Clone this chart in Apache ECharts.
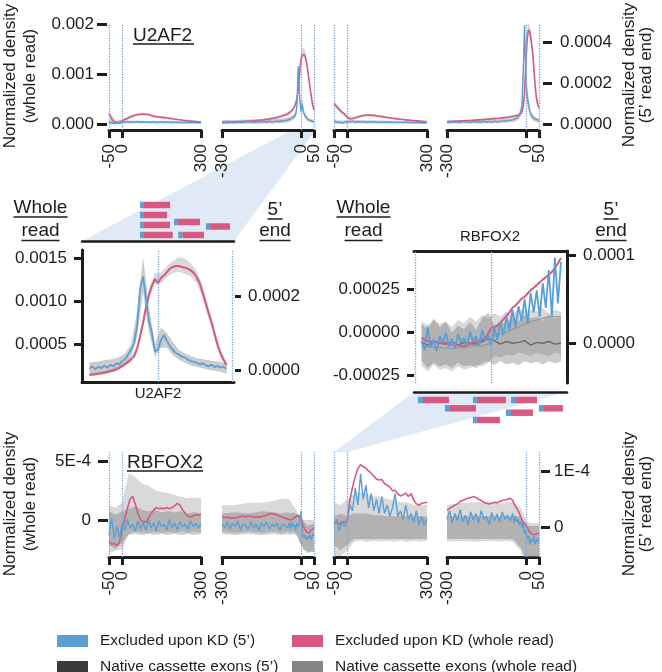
<!DOCTYPE html>
<html><head><meta charset="utf-8">
<script src="https://cdn.jsdelivr.net/npm/echarts@6/dist/echarts.min.js"></script>
<style>html,body{margin:0;padding:0;background:#fff}#c{width:662px;height:672px}</style>
</head><body><div id="c"></div>
<script>
// ================= DATA =================
// positions (nt) relative to splice sites
const xA  = [-50,-40,-30,-20,-10,0,10,20,30,40,50,60,70,80,90,100,110,120,130,140,150,160,170,180,190,200,210,220,230,240,250,260,270,280,290,300];
const xB  = [-300,-290,-280,-270,-260,-250,-240,-230,-220,-210,-200,-190,-180,-170,-160,-150,-140,-130,-120,-110,-100,-90,-80,-70,-60,-50,-45,-40,-35,-30,-25,-20,-15,-10,-5,0,5,10,15,20,25,30,35,40,45,50];
const xAc = [-50,-25,0,25,50,75,100,125,150,175,200,225,250,275,300];
const xBc = [-300,-250,-200,-150,-100,-75,-50,-40,-30,-20,-15,-10,-5,0,5,10,15,20,25,30,40,50];
const xM  = [-46,-44,-42,-40,-38,-36,-34,-32,-30,-28,-26,-24,-22,-20,-18,-16,-14,-12,-10,-8,-6,-4,-2,0,2,4,6,8,10,12,14,16,18,20,22,24,26,28,30,32,34,36,38,40,42,44,46];
const xMc = [-46,-42,-38,-34,-30,-26,-22,-18,-14,-10,-6,-2,2,6,10,14,18,22,26,30,34,38,42,46];

// ---- U2AF2 top row (panels 1-2 in units of 1e-4, panels 3-4 in units of 1e-5) ----
const u2p1Pink = [2.1,1.0,0.4,0.3,0.25,0.6,0.9,1.1,1.4,1.6,1.75,1.9,1.95,2.0,1.95,1.9,1.7,1.55,1.45,1.4,1.33,1.28,1.2,1.13,1.05,1.0,0.9,0.85,0.75,0.7,0.62,0.58,0.53,0.5,0.45,0.4];
const u2p1Blue = [0.5,0.2,0.1,0.3,0.15,0.4,0.35,0.5,0.3,0.45,0.35,0.5,0.3,0.45,0.35,0.4,0.3,0.45,0.3,0.35,0.45,0.3,0.4,0.35,0.3,0.4,0.3,0.35,0.25,0.35,0.3,0.25,0.35,0.25,0.3,0.25];
const u2p1LightLo = [1.7,0.15,0.4,1.0,1.5,1.75,1.65,1.3,1.15,1.0,0.8,0.62,0.45,0.37,0.25];
const u2p1LightHi = [2.6,0.7,0.9,1.55,2.05,2.3,2.2,1.8,1.6,1.4,1.2,1.0,0.85,0.72,0.6];
const u2p1DarkLo  = [0.0,-0.1,0.1,0.15,0.15,0.15,0.15,0.15,0.15,0.1,0.1,0.1,0.1,0.1,0.1];
const u2p1DarkHi  = [0.9,0.6,0.7,0.7,0.65,0.65,0.6,0.6,0.6,0.55,0.55,0.5,0.5,0.5,0.45];

const u2p2Pink = [0.25,0.3,0.3,0.35,0.35,0.4,0.4,0.45,0.5,0.5,0.55,0.6,0.6,0.7,0.75,0.8,0.85,0.95,1.0,1.1,1.2,1.3,1.45,1.6,1.8,2.0,2.2,2.4,2.6,2.9,3.4,4.0,5.0,7.0,10.0,12.6,13.8,14.1,13.8,12.8,11.1,9.2,7.2,5.4,3.8,2.8];
const u2p2Blue = [0.4,0.3,0.5,0.35,0.45,0.3,0.5,0.4,0.35,0.55,0.4,0.45,0.3,0.5,0.4,0.45,0.5,0.4,0.55,0.45,0.5,0.6,0.5,0.65,0.7,0.8,0.9,1.0,1.1,1.3,1.5,1.8,3.5,11.5,5.5,2.5,4.0,2.4,1.7,1.3,1.0,0.8,0.7,0.6,0.5,0.4];
const u2p2LightLo = [0.1,0.25,0.4,0.6,1.0,1.3,1.7,2.1,2.6,3.5,4.5,6.2,9.0,11.5,13.0,13.4,13.1,12.0,10.4,8.6,4.9,2.5];
const u2p2LightHi = [0.5,0.6,0.8,1.0,1.5,1.9,2.4,2.8,3.3,4.6,5.8,8.0,11.5,14.2,15.0,15.2,14.8,13.6,11.9,9.9,6.0,3.2];
const u2p2DarkLo  = [0.0,0.0,0.05,0.05,0.1,0.2,0.3,0.5,0.8,1.2,2.5,8.0,4.0,1.8,2.8,1.8,1.2,0.9,0.6,0.5,0.3,0.1];
const u2p2DarkHi  = [0.8,0.8,0.9,0.9,1.0,1.1,1.3,1.5,1.8,2.4,4.5,13.0,7.0,3.5,5.0,3.2,2.3,1.8,1.5,1.2,1.0,0.8];

const u2p3Pink = [9.8,8.5,7.0,5.8,4.8,3.3,2.4,2.6,3.0,3.4,3.8,4.1,4.3,4.4,4.3,4.2,4.0,3.8,3.6,3.4,3.2,3.0,2.8,2.6,2.5,2.3,2.2,2.0,1.9,1.8,1.6,1.5,1.4,1.3,1.2,1.1];
const u2p3Blue = [1.5,0.8,1.0,0.5,0.8,1.2,1.0,1.4,0.8,1.2,0.9,1.3,0.8,1.1,0.9,1.2,0.8,1.0,0.7,1.1,0.8,1.0,0.7,0.9,0.8,1.0,0.6,0.9,0.7,0.8,0.6,0.8,0.6,0.7,0.5,0.7];
const u2p3LightLo = [8.5,5.4,2.6,2.2,3.2,3.8,3.7,3.2,2.7,2.3,1.9,1.6,1.3,1.05,0.85];
const u2p3LightHi = [11.5,7.5,4.0,3.4,4.5,5.0,4.8,4.3,3.8,3.2,2.8,2.4,2.0,1.7,1.4];
const u2p3DarkLo  = [0.2,0.0,0.2,0.3,0.3,0.3,0.3,0.2,0.2,0.2,0.2,0.2,0.1,0.1,0.1];
const u2p3DarkHi  = [2.2,1.6,1.9,1.9,1.8,1.8,1.7,1.7,1.6,1.6,1.5,1.5,1.4,1.4,1.3];

const u2p4Pink = [1.1,1.2,1.2,1.3,1.3,1.4,1.5,1.5,1.6,1.7,1.8,1.9,2.0,2.1,2.2,2.3,2.4,2.5,2.6,2.7,2.8,3.0,3.1,3.3,3.5,3.7,3.8,4.0,4.1,4.3,4.6,5.0,6.0,8.5,15,30,42,46,45,41,36,28,19,13,9.5,8];
const u2p4Blue = [1.0,0.6,1.2,0.8,1.1,0.7,1.3,0.9,1.0,0.7,1.2,0.9,1.1,0.8,1.3,1.0,1.2,0.9,1.4,1.1,1.3,1.5,1.4,1.7,1.8,2.0,2.3,2.5,2.9,3.3,4.0,5.5,9.0,25,48,22,13,10,6,4.5,3.5,3.0,2.5,2.2,2.0,1.5];
const u2p4LightLo = [0.7,1.0,1.4,1.9,2.4,2.8,3.2,3.5,3.8,4.4,5.3,7.5,13,27,39,43,42,38,33,25,11,6.5];
const u2p4LightHi = [1.6,1.9,2.3,2.8,3.4,3.8,4.3,4.6,4.9,5.7,6.8,10,18,34,45,49,48,44,39,31,15,9.5];
const u2p4DarkLo  = [0.2,0.2,0.2,0.3,0.4,0.6,1.0,1.4,2.0,3.5,6,18,40,15,9,7,4,3,2,1.5,1,0.5];
const u2p4DarkHi  = [1.8,1.8,1.9,2.0,2.3,2.7,3.0,3.5,4.6,7.5,12,32,49,30,17,13,8,6,5,4,3,2.5];

// ---- RBFOX2 bottom row (all in units of 1e-5) ----
const rbp1Pink = [-17,-20,-19,-21,-18,-8,2,10,18,20.5,14,6,1,-1,-1,2,6,9,11,10,10.5,10,11,10,11,12.5,14.5,13,9,6,4,3,4,5,4.5,5.5];
const rbp1Blue = [-12,2,-15,-5,-14,-2,-8,1,-6,-3,-9,0,-7,-2,-8,1,-6,-2,-9,0,-5,-3,-8,1,-6,-2,-8,-1,-5,-3,-7,0,-5,-2,-6,-3];
const rbp1LightLo = [-27,-25,-24,-11,-9,-10,-10,-9,-10,-9,-10,-9,-10,-9,-10];
const rbp1LightHi = [13,11,15,40,36.5,31,29.5,25.5,24,23,21.5,20,18.7,19.5,18.7];
const rbp1DarkLo  = [-20,-24,-18,-12,-11,-12,-11,-12,-11,-12,-11,-12,-11,-12,-11];
const rbp1DarkHi  = [8,5,8,10,12,9,8,9,7,8,7,8,6,7,6];

const rbp2Pink = [3.4,2.5,3,2,2.5,2,3,3.5,4,3,4,3.5,3,3.5,3,3.4,4,4.5,6,5.5,5.6,4.5,3.8,3,2,1.5,1,0.5,1,2,2.5,3,4,4.5,3,1,-2,-5,-7,-9,-10,-10.6,-9,-7.8,-7,-6];
const rbp2Blue = [-3,-6,-1,-7,-2,-5,0,-8,-3,-4,-7,-1,-6,-3,-8,-2,-5,-1,-7,-3,-5,-2,-8,-3,-4,-6,-2,-7,-1,-5,-3,-8,-2,-5,-2,8,-10,-14,-12,-16,-13,-15,-12,-16,-11,-13];
const rbp2LightLo = [-9,-10,-9,-10,-9,-10,-9,-10,-9,-10,-12,-14,-18,-20,-22,-24,-25,-26,-27,-27,-26,-27];
const rbp2LightHi = [13,13,15,15,16.7,18.4,18.4,17,13,10,7.3,4.5,3.5,2.5,1.5,1,1,0.5,0.5,0.5,0.5,0.3];
const rbp2DarkLo  = [-11,-12,-11,-12,-11,-12,-11,-12,-11,-12,-13,-15,-18,-20,-22,-24,-25,-25,-26,-26,-26,-26];
const rbp2DarkHi  = [6,7,6,8,7,6,7,6,7,6,6,5,5,4,2,0,-2,-3,-4,-4,-3,-3];

const rbp3Pink = [0.8,1.0,0.6,1.1,0.9,1.3,4.9,7.2,9.0,10.5,11.1,10.8,10.5,10.0,9.6,9.1,8.6,8.4,8.5,7.8,7.5,7.2,6.5,6.6,6.0,5.6,5.8,6.1,5.5,6.0,4.9,4.2,4.0,4.3,4.4,4.5];
const rbp3Blue = [0.5,1.5,-0.5,1.0,0.2,1.5,4,3,7,4,9.5,5,7.5,3.5,6,3,5,2.5,5.5,2.5,4,2,3.5,6,2,3,1.5,4,1.5,2.5,1,3,0.5,2,0.5,1.5];
const rbp3LightLo = [-5,-5,-4,-2.5,-2.3,-2.5,-2.3,-2.5,-2.3,-2.5,-2.3,-2.5,-2.3,-2.5,-2.3];
const rbp3LightHi = [4.5,4,5,6,6.2,6,5.5,5.5,5,4.8,4.5,4.5,4,4,4];
const rbp3DarkLo  = [-3,-4,-3,-2,-2,-2,-2,-2,-2,-2,-2,-2,-2,-2,-2];
const rbp3DarkHi  = [2,2.5,2,2.5,2.5,2.5,2.2,2.2,2,2,2,2,2,2,2];

const rbp4Pink = [3.1,3.4,3.7,4.0,4.2,4.6,4.8,5.0,5.2,5.3,5.5,5.3,5.0,4.8,4.5,4.3,4.2,4.3,4.5,4.4,4.6,4.8,4.9,5.0,5.2,4.8,4.2,3.8,3.4,3.0,2.6,1.9,1.5,1.0,0.8,0.5,0.0,-0.4,-0.8,-1.0,-1.2,-1.3,-1.2,-1.3,-1.0,-1.1];
const rbp4Blue = [1.5,3,0.8,2.5,1.2,3.2,1,2.2,0.5,2.8,1.3,2.5,0.8,3,1.5,2,0.6,2.7,1.2,2.4,1,2.8,1.5,2.2,1.2,2.5,0.8,2,1,1.5,0.5,1.2,0,0.8,-1,-0.5,-2,-1.5,-3,-2,-2.5,-1.5,-3,-2,-2.5,-1.8];
const rbp4LightLo = [-2.5,-2.3,-2.5,-2.3,-2.5,-2.3,-2.5,-3,-3.5,-4,-5,-6,-7,-7,-7,-8,-8,-8,-8,-8,-8,-8];
const rbp4LightHi = [4,4.3,4.5,4.5,4.3,4.5,4.5,4.3,4,3.5,3,2.5,2,1.5,1,1,0.8,0.8,0.8,0.8,0.8,0.8];
const rbp4DarkLo  = [-2,-2,-2,-2,-2,-2,-2,-2.5,-3,-3.5,-4,-4.5,-5,-5.5,-6,-6,-6,-6,-6,-6,-6,-6];
const rbp4DarkHi  = [2,2,2,2,2,2,2,2,2,1.8,1.5,1.2,1,0.8,0.5,0.3,0.3,0.3,0.3,0.3,0.3,0.3];

// ---- zoomed U2AF2 (pink/light in 1e-4, blue/dark in 1e-5) ----
const zuPink = [1.43,1.48,1.53,1.58,1.63,1.7,1.78,1.87,1.96,2.08,2.25,2.45,2.7,2.95,3.25,3.6,4.5,5.9,7.5,9.4,10.8,11.9,12.6,12.1,12.7,13.0,13.4,13.8,14.0,14.1,14.1,14.0,13.9,13.8,13.6,13.3,12.8,12.1,11.0,9.8,8.6,7.5,6.2,4.9,3.9,3.2,2.6];
const zuBlue = [0.3,1.0,0.2,0.9,0.5,1.2,0.6,1.4,1.0,1.8,1.5,2.4,3.0,4.2,5.5,7.2,12.0,22.0,25.2,19.0,13.0,9.9,5.0,5.5,8.0,9.5,7.8,6.5,5.4,4.6,4.2,3.6,3.4,2.8,2.4,2.2,2.0,1.5,1.8,1.3,1.0,1.4,0.8,1.1,0.6,0.9,0.3];
const zuLightLo = [1.25,1.35,1.45,1.6,1.8,2.05,2.5,3.0,4.2,7.0,10.2,12.0,12.1,12.8,13.3,13.4,13.2,12.9,12.1,10.3,8.0,5.7,3.5,2.3];
const zuLightHi = [1.65,1.75,1.85,2.0,2.2,2.5,2.95,3.55,4.9,8.0,11.4,13.3,13.3,14.1,14.7,15.1,15.0,14.4,13.6,11.8,9.3,6.8,4.4,2.95];
const zuDarkLo  = [-1.0,-0.8,-0.8,-0.5,0.0,0.5,1.5,3.5,9.0,21.0,10.0,3.5,6.0,6.0,4.0,2.8,2.0,1.2,0.8,0.5,0.0,-0.2,-0.5,-1.0];
const zuDarkHi  = [2.0,2.2,2.5,2.8,3.0,3.5,4.5,7.0,16.0,30.5,17.0,7.0,11.5,10.0,7.5,5.5,4.5,3.8,3.2,3.0,2.6,2.4,2.2,1.8];

// ---- zoomed RBFOX2 (all in 1e-5) ----
const zrPink = [-3.3,-4.5,-5.2,-5.5,-5.8,-6.0,-6.2,-6.5,-6.3,-6.8,-7.2,-7.0,-7.5,-8.0,-8.1,-7.5,-7.0,-6.2,-5.5,-5.0,-4.5,-3.5,-1.0,2.6,3.0,3.5,5.5,7.4,9.5,11.5,14.2,15.5,17.5,19.5,20.5,22.5,24.5,25.8,27.5,29.0,30.6,32.0,33.5,35.0,37.5,40.0,43.3];
const zrBlue = [0.3,-0.8,1.9,-0.5,0.4,-0.9,0.8,0.0,1.2,-0.4,0.5,-0.6,1.0,0.1,0.6,-0.3,1.3,0.2,0.8,-0.2,1.5,0.3,0.9,-0.2,1.8,0.4,2.4,0.9,3.0,1.5,3.8,1.8,4.2,2.5,5.0,2.2,5.7,3.5,6.0,3.0,6.8,4.0,8.3,3.0,9.7,4.5,9.2];
const zrLightLo = [-20,-23,-19,-22,-21,-23,-20,-22,-21,-19,-20,-18,-14,-15,-13,-14,-12,-13,-14,-12,-13,-14,-12,-13];
const zrLightHi = [6,4,7,5,6,3,7,5,9,6,10,8,11,9,12,10,14,12,13,12,14,11,13,12];
const zrLightMean = [-8,-8.5,-9,-9,-9.5,-9.5,-9,-9,-8.5,-8,-8,-7,-2,-1,0,1.5,3,4.5,6,7,8,9,9,9];
const zrDarkLo  = [-2.0,-2.8,-2.2,-2.6,-2.4,-2.8,-2.2,-2.6,-2.5,-2.8,-2.3,-2.0,-2.5,-2.0,-2.4,-2.2,-2.5,-2.0,-2.3,-2.1,-2.4,-2.0,-2.3,-2.1];
const zrDarkHi  = [2.2,1.5,2.8,1.8,2.5,1.2,2.0,1.6,2.4,1.5,2.8,3.5,2.0,2.5,2.2,3.0,2.5,3.2,2.8,3.0,2.6,3.2,2.8,3.0];
const zrDarkMean = [0.1,-0.2,0.2,0,-0.1,0.2,-0.2,0.1,0,-0.1,0.2,0.5,0.3,-0.1,0.2,0,0.1,0.3,-0.2,0.1,0,0.2,-0.1,0];

// ---- schematic reads: [start, 5' end, end, row] (nt) ----
const readsU2AF2  = [[-12.1,-9.4,8.1,0],[-12.1,-9.4,6.1,1],[-12.1,-9.4,8.1,2],[10.7,13.4,28.2,1.7],[32.2,35.0,48.3,2.15],[-12.1,-9.4,9.9,3],[13.6,16.3,30.9,3]];
const readsRBFOX2 = [[-48.4,-45.1,-27.9,0],[-12.1,-9.5,9.7,0],[13.0,16.3,30.2,0],[-30.6,-27.3,-10.1,0.83],[9.7,13.0,27.5,1.27],[31.5,34.8,47.3,0.83],[-12.1,-9.5,5.7,2]];

// ---- tick values / labels ----
const ticksA = [-50,0,300], ticksB = [-300,0,50];
const topLeftTicks = [0,0.001,0.002],        topLeftLabels = ['0.000','0.001','0.002'];
const topRightTicks = [0,0.0002,0.0004],     topRightLabels = ['0.0000','0.0002','0.0004'];
const botLeftTicks = [0,0.0005],             botLeftLabels = ['0','5E-4'];
const botRightTicks = [0,0.0001],            botRightLabels = ['0','1E-4'];
const zuLeftTicks = [0.0005,0.001,0.0015],   zuLeftLabels = ['0.0005','0.0010','0.0015'];
const zuRightTicks = [0,0.0002],             zuRightLabels = ['0.0000','0.0002'];
const zrLeftTicks = [-0.00025,0,0.00025],    zrLeftLabels = ['-0.00025','0.00000','0.00025'];
const zrRightTicks = [0,0.0001],             zrRightLabels = ['0.0000','0.0001'];

const N_BLUE = 'Excluded upon KD (5\u2019)';
const N_PINK = 'Excluded upon KD (whole read)';
const N_DARK = 'Native cassette exons (5\u2019)';
const N_GREY = 'Native cassette exons (whole read)';

// ================= STYLE =================
const FONT = '"Liberation Sans", Arial, sans-serif';
const INK = '#1d1d1d';
const PINK = '#d9587f', BLUE = '#5a9fd6', DARKSW = '#3b3b3b', GREYSW = '#858585';
const LIGHTBAND = 'rgba(150,150,150,0.36)', DARKBAND = 'rgba(95,95,95,0.32)';
const DOT = '#7aa4d8';

function tickFmt(vals, labels) {
  return v => { let bi = 0, bd = Infinity; vals.forEach((t, i) => { const d = Math.abs(t - v); if (d < bd) { bd = d; bi = i; } }); return labels[bi]; };
}
function line(name, xi, yi, xs, ys, unit, color, width, z, marks) {
  const s = { type: 'line', name, xAxisIndex: xi, yAxisIndex: yi, data: xs.map((x, i) => [x, ys[i] * unit]),
    showSymbol: false, symbol: 'none', lineStyle: { color, width }, itemStyle: { color }, z, silent: true, animation: false, clip: true };
  if (marks) s.markLine = { silent: true, symbol: ['none', 'none'], label: { show: false }, animation: false,
    lineStyle: { color: DOT, type: 'dotted', width: 1.3 }, data: marks.map(v => ({ xAxis: v })) };
  return s;
}
function band(name, xi, yi, xs, lo, hi, unit, fill) {
  return { type: 'custom', name, xAxisIndex: xi, yAxisIndex: yi, silent: true, animation: false, z: 1, clip: true,
    itemStyle: { color: fill },
    data: xs.map((x, i) => [x, lo[i] * unit, hi[i] * unit]),
    renderItem: (params, api) => {
      if (params.dataIndex !== 0) return null;
      const top = xs.map((x, i) => api.coord([x, hi[i] * unit]));
      const bot = xs.map((x, i) => api.coord([x, lo[i] * unit])).reverse();
      return { type: 'polygon', shape: { points: top.concat(bot) }, style: { fill } };
    } };
}
function reads(xi, yi, data) {
  return { type: 'custom', xAxisIndex: xi, yAxisIndex: yi, silent: true, animation: false, z: 3,
    data, encode: { x: [0, 1, 2], y: 3 },
    renderItem: (params, api) => {
      const s = api.coord([api.value(0), api.value(3)]);
      const m = api.coord([api.value(1), api.value(3)]);
      const e = api.coord([api.value(2), api.value(3)]);
      const h = 6.5;
      return { type: 'group', children: [
        { type: 'rect', shape: { x: s[0], y: s[1] - h / 2, width: m[0] - s[0], height: h }, style: { fill: BLUE } },
        { type: 'rect', shape: { x: m[0], y: s[1] - h / 2, width: e[0] - m[0], height: h }, style: { fill: PINK } }
      ] };
    } };
}

// ================= AXES =================
const lbl = { fontSize: 17, color: INK, fontFamily: FONT };
// main x axis: line, all ticks, end labels
function panelX(g, min, max, ticks) {
  const ends = [ticks[0], ticks[ticks.length - 1]];
  return { type: 'value', gridIndex: g, min, max, position: 'bottom',
    axisLine: { show: true, onZero: false, lineStyle: { color: INK, width: 3 } },
    axisTick: { show: true, customValues: ticks, length: 8, lineStyle: { color: INK, width: 3 } },
    axisLabel: Object.assign({ show: true, customValues: ends, rotate: 90, margin: 14, hideOverlap: false, showMinLabel: true, showMaxLabel: true, formatter: v => String(v) }, lbl),
    splitLine: { show: false } };
}
// companion x axis in the same grid carrying the middle (0) label only
function midLabelX(g, min, max, ticks) {
  const mids = ticks.slice(1, ticks.length - 1);
  return { type: 'value', gridIndex: g, min, max, position: 'bottom', offset: 0,
    axisLine: { show: false, onZero: false }, axisTick: { show: false },
    axisLabel: Object.assign({ show: true, customValues: mids, rotate: 90, margin: 14, hideOverlap: false, formatter: v => String(v) }, lbl),
    splitLine: { show: false } };
}
function plainX(g, min, max, pos, w) {
  return { type: 'value', gridIndex: g, min, max, position: pos,
    axisLine: { show: w > 0, onZero: false, lineStyle: { color: INK, width: w } },
    axisTick: { show: false }, axisLabel: { show: false }, splitLine: { show: false } };
}
function shownY(g, min, max, pos, offset, ticks, labels, tickLen, margin, showLine) {
  return { type: 'value', gridIndex: g, min, max, position: pos, offset,
    axisLine: { show: !!showLine, onZero: false, lineStyle: { color: INK, width: 3 } },
    axisTick: { show: true, customValues: ticks, length: tickLen, lineStyle: { color: INK, width: 3 } },
    axisLabel: Object.assign({ show: true, customValues: ticks, margin, hideOverlap: false, showMinLabel: true, showMaxLabel: true, formatter: tickFmt(ticks, labels) }, lbl),
    splitLine: { show: false } };
}
function hiddenY(g, min, max, inverse) {
  return { type: 'value', gridIndex: g, min, max, show: false, inverse: !!inverse, splitLine: { show: false } };
}

const TL = [-0.00012, 0.002], TR = [-0.0000293, 0.000488];
const BL = [-0.000304, 0.000575], BR = [-0.0000517, 0.0001335];

const grids = [
  { left: 109, top: 24, width: 92, height: 106 },
  { left: 222, top: 24, width: 92, height: 106 },
  { left: 334, top: 24, width: 93, height: 106 },
  { left: 447, top: 24, width: 92, height: 106 },
  { left: 109, top: 452, width: 92, height: 105 },
  { left: 222, top: 452, width: 92, height: 105 },
  { left: 334, top: 452, width: 93, height: 105 },
  { left: 447, top: 452, width: 92, height: 105 },
  { left: 82, top: 250, width: 152, height: 132 },
  { left: 414, top: 251, width: 153, height: 132 },
  { left: 82, top: 200, width: 152, height: 41 },
  { left: 414, top: 392, width: 153, height: 33 }
].map(g => Object.assign({ containLabel: false, outerBoundsMode: 'none' }, g));

const panelRanges = [[-50, 300, ticksA], [-300, 50, ticksB], [-50, 300, ticksA], [-300, 50, ticksB],
                     [-50, 300, ticksA], [-300, 50, ticksB], [-50, 300, ticksA], [-300, 50, ticksB]];
const xAxes = panelRanges.map((r, g) => panelX(g, r[0], r[1], r[2])).concat([
  plainX(8, -51, 51, 'bottom', 3), plainX(9, -51, 50, 'top', 3),
  plainX(10, -51, 51, 'bottom', 2.5), plainX(11, -51, 50, 'top', 2.5)
]).concat(panelRanges.map((r, g) => midLabelX(g, r[0], r[1], r[2])));

const yAxes = [
  shownY(0, TL[0], TL[1], 'left', 2, topLeftTicks, topLeftLabels, 10, 13),
  hiddenY(1, TL[0], TL[1]),
  hiddenY(2, TR[0], TR[1]),
  shownY(3, TR[0], TR[1], 'right', 4, topRightTicks, topRightLabels, 9, 17),
  shownY(4, BL[0], BL[1], 'left', 1, botLeftTicks, botLeftLabels, 10, 17),
  hiddenY(5, BL[0], BL[1]),
  hiddenY(6, BR[0], BR[1]),
  shownY(7, BR[0], BR[1], 'right', 2, botRightTicks, botRightLabels, 9, 13),
  shownY(8, 0.0000616, 0.001597, 'left', 0, zuLeftTicks, zuLeftLabels, 8, 15, true),
  shownY(8, -0.0000324, 0.000324, 'right', 1, zuRightTicks, zuRightLabels, 6, 13),
  shownY(9, -0.000297, 0.000473, 'left', 0, zrLeftTicks, zrLeftLabels, 7, 14),
  shownY(9, -0.000045, 0.0001045, 'right', 0, zrRightTicks, zrRightLabels, 9, 16, true),
  hiddenY(10, -0.5, 3.6, true),
  hiddenY(11, -0.8, 2.5, true)
];

// ================= SERIES =================
const series = [];
function panel(g, yi, xs, xsc, unit, pink, blue, lLo, lHi, dLo, dHi, marks) {
  series.push(band(N_GREY, g, yi, xsc, lLo, lHi, unit, LIGHTBAND));
  series.push(band(N_DARK, g, yi, xsc, dLo, dHi, unit, DARKBAND));
  series.push(line(N_PINK, g, yi, xs, pink, unit, PINK, 1.6, 3, marks));
  series.push(line(N_BLUE, g, yi, xs, blue, unit, BLUE, 1.4, 4));
}
panel(0, 0, xA, xAc, 1e-4, u2p1Pink, u2p1Blue, u2p1LightLo, u2p1LightHi, u2p1DarkLo, u2p1DarkHi, [-50, 0]);
panel(1, 1, xB, xBc, 1e-4, u2p2Pink, u2p2Blue, u2p2LightLo, u2p2LightHi, u2p2DarkLo, u2p2DarkHi, [0, 50]);
panel(2, 2, xA, xAc, 1e-5, u2p3Pink, u2p3Blue, u2p3LightLo, u2p3LightHi, u2p3DarkLo, u2p3DarkHi, [-50, 0]);
panel(3, 3, xB, xBc, 1e-5, u2p4Pink, u2p4Blue, u2p4LightLo, u2p4LightHi, u2p4DarkLo, u2p4DarkHi, [0, 50]);
panel(4, 4, xA, xAc, 1e-5, rbp1Pink, rbp1Blue, rbp1LightLo, rbp1LightHi, rbp1DarkLo, rbp1DarkHi, [-50, 0]);
panel(5, 5, xB, xBc, 1e-5, rbp2Pink, rbp2Blue, rbp2LightLo, rbp2LightHi, rbp2DarkLo, rbp2DarkHi, [0, 50]);
panel(6, 6, xA, xAc, 1e-5, rbp3Pink, rbp3Blue, rbp3LightLo, rbp3LightHi, rbp3DarkLo, rbp3DarkHi, [-50, 0]);
panel(7, 7, xB, xBc, 1e-5, rbp4Pink, rbp4Blue, rbp4LightLo, rbp4LightHi, rbp4DarkLo, rbp4DarkHi, [0, 50]);

// zoomed U2AF2
series.push(band(N_GREY, 8, 8, xMc, zuLightLo, zuLightHi, 1e-4, LIGHTBAND));
series.push(band(N_DARK, 8, 9, xMc, zuDarkLo, zuDarkHi, 1e-5, DARKBAND));
series.push(line(N_PINK, 8, 8, xM, zuPink, 1e-4, PINK, 2, 3, [0, 50]));
series.push(line(N_BLUE, 8, 9, xM, zuBlue, 1e-5, BLUE, 1.8, 4));
// zoomed RBFOX2
series.push(band(N_GREY, 9, 10, xMc, zrLightLo, zrLightHi, 1e-5, LIGHTBAND));
series.push(band(N_DARK, 9, 11, xMc, zrDarkLo, zrDarkHi, 1e-5, DARKBAND));
series.push(line(N_GREY, 9, 10, xMc, zrLightMean, 1e-5, '#9a9a9a', 1.4, 2));
series.push(line(N_DARK, 9, 11, xMc, zrDarkMean, 1e-5, '#6a6a6a', 1.4, 2));
series.push(line(N_PINK, 9, 10, xM, zrPink, 1e-5, PINK, 2, 3, [-50, 0]));
series.push(line(N_BLUE, 9, 11, xM, zrBlue, 1e-5, BLUE, 1.8, 4));
// schematics
series.push(reads(10, 12, readsU2AF2));
series.push(reads(11, 13, readsRBFOX2));

// ================= TEXT / DECORATION =================
const F = (s) => s + 'px ' + FONT;
function txt(x, y, text, size, align, rot, lh) {
  const el = { type: 'text', x, y, silent: true, z: 10,
    style: { text, x: 0, y: 0, font: F(size), fill: INK, textAlign: align || 'left', align: align || 'left',
      textVerticalAlign: 'middle', verticalAlign: 'middle', lineHeight: lh || size } };
  if (rot) el.rotation = rot;
  return el;
}
function uline(x1, x2, y) {
  return { type: 'line', silent: true, z: 10, shape: { x1, y1: y, x2, y2: y }, style: { stroke: INK, lineWidth: 1.5 } };
}
const graphic = [
  { type: 'polygon', silent: true, z: -10, shape: { points: [[82, 241], [234, 241], [315, 131], [290, 131]] }, style: { fill: '#dfeaf6' } },
  { type: 'polygon', silent: true, z: -10, shape: { points: [[414, 392], [567, 392], [347, 452], [334, 452]] }, style: { fill: '#dfeaf6' } },
  txt(133, 35.5, 'U2AF2', 19), uline(133, 194, 44),
  txt(127, 462.5, 'RBFOX2', 19), uline(127, 203, 471),
  txt(40.5, 208, 'Whole', 19, 'center'), uline(13.5, 67.5, 217),
  txt(40.5, 231, 'read', 19, 'center'), uline(21.5, 59.5, 240.5),
  txt(275, 210, '5\u2019', 19, 'center'), uline(267.5, 282.5, 219),
  txt(275, 231, 'end', 19, 'center'), uline(259.5, 290.5, 240.5),
  txt(363.5, 208, 'Whole', 19, 'center'), uline(336.5, 390.5, 217),
  txt(363.5, 231, 'read', 19, 'center'), uline(344.5, 382.5, 240.5),
  txt(611, 210, '5\u2019', 19, 'center'), uline(603.5, 618.5, 219),
  txt(611, 231, 'end', 19, 'center'), uline(595.5, 626.5, 240.5),
  txt(490, 237, 'RBFOX2', 15, 'center'),
  txt(158, 394, 'U2AF2', 15, 'center'),
  txt(20, 76, 'Normalized density\n(whole read)', 17, 'center', Math.PI / 2, 20),
  txt(638, 75, 'Normalized density\n(5\u2019 read end)', 17, 'center', Math.PI / 2, 17),
  txt(20, 504, 'Normalized density\n(whole read)', 17, 'center', Math.PI / 2, 20),
  txt(638, 504, 'Normalized density\n(5\u2019 read end)', 17, 'center', Math.PI / 2, 17)
];

const legendBase = { orient: 'vertical', top: 633, height: 80, width: 260, padding: 0, itemWidth: 31, itemHeight: 12, itemGap: 10, icon: 'rect',
  selectedMode: false, textStyle: { fontSize: 15.5, color: INK, fontFamily: FONT, lineHeight: 12, padding: [0, 0, 0, 7] } };

const option = {
  animation: false,
  backgroundColor: '#ffffff',
  grid: grids, xAxis: xAxes, yAxis: yAxes, series, graphic,
  legend: [
    Object.assign({ left: 57, data: [{ name: N_BLUE, itemStyle: { color: BLUE } }, { name: N_DARK, itemStyle: { color: DARKSW } }] }, legendBase),
    Object.assign({ left: 292, data: [{ name: N_PINK, itemStyle: { color: PINK } }, { name: N_GREY, itemStyle: { color: GREYSW } }] }, legendBase)
  ]
};
const chart = echarts.init(document.getElementById('c'), null, { renderer: 'canvas' });
chart.setOption(option);
</script>
</body></html>
